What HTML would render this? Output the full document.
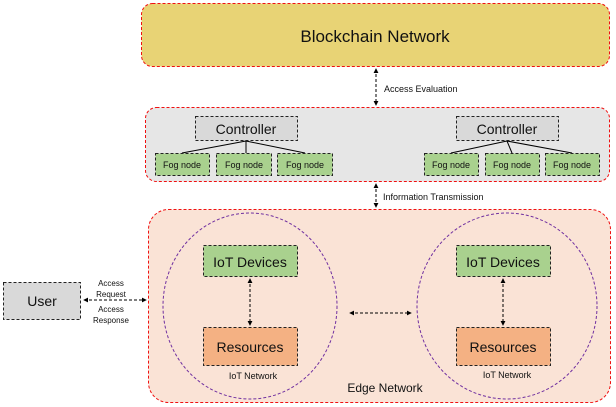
<!DOCTYPE html>
<html><head><meta charset="utf-8"><style>
html,body{margin:0;padding:0;background:#fff;}
svg{display:block;}
text{font-family:"Liberation Sans",sans-serif;fill:#111;}
</style></head><body>
<svg width="616" height="407" viewBox="0 0 616 407" xmlns="http://www.w3.org/2000/svg">
<defs>
<marker id="a" viewBox="0 0 6 6" refX="5" refY="3" markerWidth="5" markerHeight="5" orient="auto-start-reverse"><path d="M0,0 L6,3 L0,6 z" fill="#000"/></marker>
</defs>
<!-- Blockchain -->
<rect x="141.5" y="3.5" width="468" height="63" rx="11" fill="#e8d375" stroke="#f01010" stroke-dasharray="3,2"/>
<text x="375" y="42" font-size="17" text-anchor="middle">Blockchain Network</text>
<line x1="376" y1="69" x2="376" y2="105" stroke="#000" stroke-dasharray="3,2" marker-start="url(#a)" marker-end="url(#a)"/>
<text x="384" y="92" font-size="9">Access Evaluation</text>
<!-- Fog layer -->
<rect x="145.5" y="107.5" width="464" height="74" rx="11" fill="#e6e6e6" stroke="#f01010" stroke-dasharray="3,2"/>
<g stroke="#000" stroke-width="1">
<line x1="246" y1="141" x2="182" y2="153"/><line x1="246" y1="141" x2="246" y2="153"/><line x1="246" y1="141" x2="305" y2="153"/>
<line x1="507" y1="141" x2="451" y2="153"/><line x1="507" y1="141" x2="512" y2="153"/><line x1="507" y1="141" x2="572" y2="153"/>
</g>
<g stroke="#222" stroke-dasharray="3,2">
<rect x="195.5" y="116.5" width="102" height="24" fill="#d9d9d9"/>
<rect x="456.5" y="116.5" width="102" height="24" fill="#d9d9d9"/>
<g fill="#a9d18e">
<rect x="155.5" y="153.5" width="54" height="22"/><rect x="216.5" y="153.5" width="55" height="22"/><rect x="277.5" y="153.5" width="55" height="22"/>
<rect x="424.5" y="153.5" width="54" height="22"/><rect x="485.5" y="153.5" width="54" height="22"/><rect x="545.5" y="153.5" width="54" height="22"/>
</g>
</g>
<text x="246" y="134" font-size="14" text-anchor="middle">Controller</text>
<text x="507" y="134" font-size="14" text-anchor="middle">Controller</text>
<g font-size="9" text-anchor="middle">
<text x="182" y="168">Fog node</text><text x="244" y="168">Fog node</text><text x="305" y="168">Fog node</text>
<text x="451" y="168">Fog node</text><text x="512" y="168">Fog node</text><text x="572" y="168">Fog node</text>
</g>
<line x1="376" y1="184" x2="376" y2="207" stroke="#000" stroke-dasharray="3,2" marker-start="url(#a)" marker-end="url(#a)"/>
<text x="383" y="200" font-size="9">Information Transmission</text>
<!-- Edge -->
<rect x="148.5" y="209.5" width="462" height="193" rx="20" fill="#fae3d6" stroke="#f01010" stroke-dasharray="3,2"/>
<ellipse cx="250" cy="306" rx="87" ry="93" fill="none" stroke="#7030a0" stroke-dasharray="3,2"/>
<ellipse cx="507" cy="306" rx="90" ry="93" fill="none" stroke="#7030a0" stroke-dasharray="3,2"/>
<g stroke="#222" stroke-dasharray="3,2">
<rect x="203.5" y="245.5" width="94" height="31" fill="#a9d18e"/>
<rect x="203.5" y="327.5" width="94" height="38" fill="#f4b183"/>
<rect x="456.5" y="245.5" width="94" height="31" fill="#a9d18e"/>
<rect x="456.5" y="327.5" width="94" height="38" fill="#f4b183"/>
</g>
<g stroke="#000" stroke-dasharray="3,2" marker-start="url(#a)" marker-end="url(#a)">
<line x1="250" y1="279" x2="250" y2="325"/>
<line x1="503" y1="279" x2="503" y2="325"/>
<line x1="350" y1="313" x2="411" y2="313"/>
<line x1="84" y1="300" x2="146" y2="300"/>
</g>
<g text-anchor="middle">
<text x="250" y="267" font-size="14">IoT Devices</text>
<text x="250" y="352" font-size="14">Resources</text>
<text x="503" y="267" font-size="14">IoT Devices</text>
<text x="503" y="352" font-size="14">Resources</text>
<text x="253" y="379" font-size="9">IoT Network</text>
<text x="507" y="378" font-size="9">IoT Network</text>
<text x="385" y="392" font-size="12">Edge Network</text>
</g>
<!-- User -->
<rect x="3.5" y="282.5" width="77" height="37" fill="#d9d9d9" stroke="#222" stroke-dasharray="3,2"/>
<text x="42" y="306" font-size="14" text-anchor="middle">User</text>
<g font-size="8" text-anchor="middle">
<text x="111" y="286">Access</text><text x="111" y="297">Request</text>
<text x="111" y="312">Access</text><text x="111" y="323">Response</text>
</g>
</svg>
</body></html>
